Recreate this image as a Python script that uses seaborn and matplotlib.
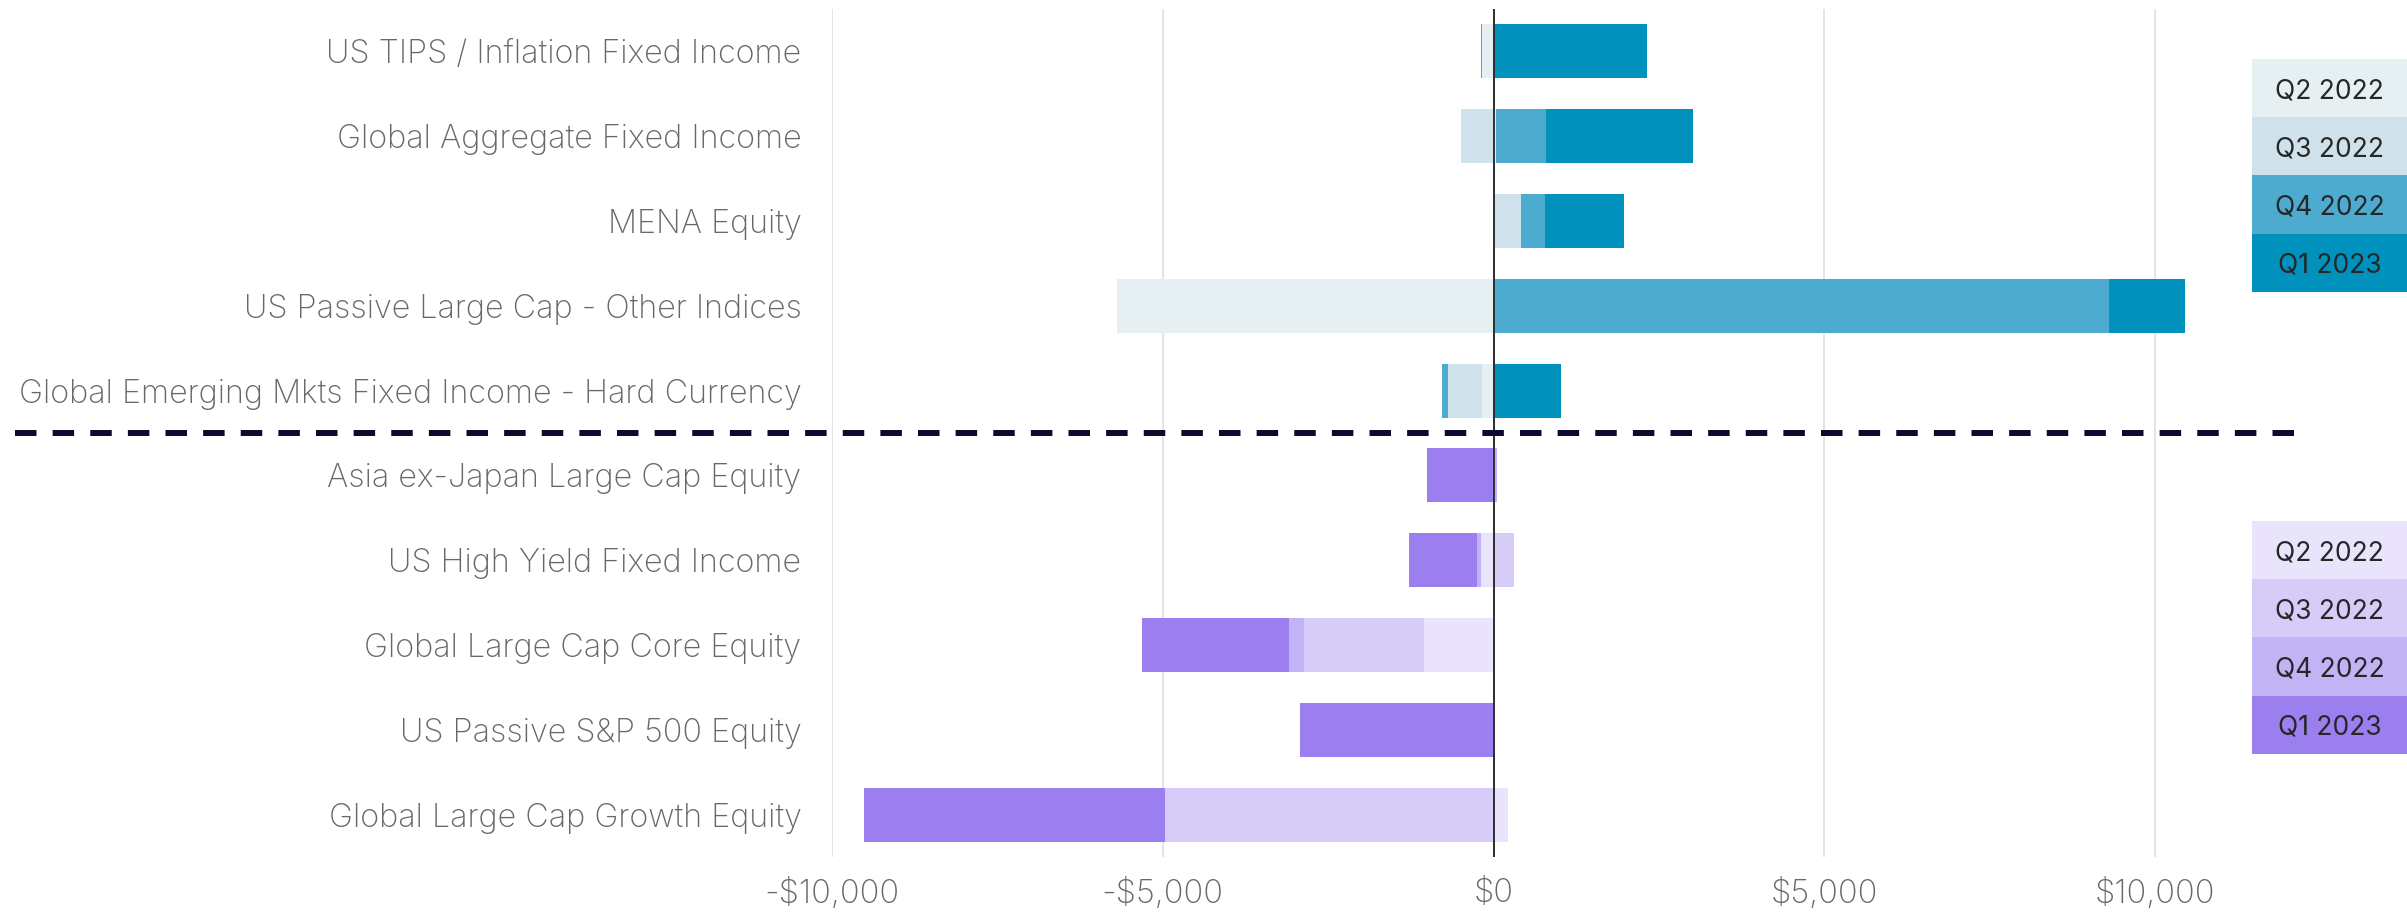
import matplotlib
matplotlib.use("Agg")
import matplotlib.pyplot as plt
import matplotlib.transforms as mtransforms
from matplotlib.patches import Rectangle
from matplotlib.lines import Line2D
import numpy as np
import pandas as pd
import seaborn as sns

# ---- data (net flows, USD millions) ----
categories = [
    "US TIPS / Inflation Fixed Income",
    "Global Aggregate Fixed Income",
    "MENA Equity",
    "US Passive Large Cap - Other Indices",
    "Global Emerging Mkts Fixed Income - Hard Currency",
    "Asia ex-Japan Large Cap Equity",
    "US High Yield Fixed Income",
    "Global Large Cap Core Equity",
    "US Passive S&P 500 Equity",
    "Global Large Cap Growth Equity",
]
quarters = ["Q2 2022", "Q3 2022", "Q4 2022", "Q1 2023"]
q2_2022 = [-180, 40, 0, -5690, -180, 0, -195, -1055, 0, 215]
q3_2022 = [0, -487, 408, 0, -513, 0, 302, -1810, 0, -4965]
q4_2022 = [-12, 750, 377, 9306, -90, 50, -60, -231, 0, 0]
q1_2023 = [2320, 2228, 1192, 1147, 1027, -1010, -1026, -2218, -2925, -4557]
n_inflow = 5  # first five rows are top inflows, the rest top outflows

xticks = [-10000, -5000, 0, 5000, 10000]
xtick_labels = ["-$10,000", "-$5,000", "$0", "$5,000", "$10,000"]

inflow_colors = ["#e6f0f3", "#cfe2eb", "#4cabce", "#0091bd"]
outflow_colors = ["#e9e4fb", "#d7ccf7", "#c2b3f5", "#9b7fef"]

# ---- style ----
sns.set_theme(style="white")
plt.rcParams["font.family"] = ["Inter", "DejaVu Sans"]

W, H = 2407, 915
fig = plt.figure(figsize=(W / 100, H / 100), dpi=100)
ax = fig.add_axes([832 / W, 1 - 857.4 / H, (2298 - 832) / W, (857.4 - 8.6) / H])

# ---- stacked bars: draw cumulative totals, outermost first ----
vals = np.array([q2_2022, q3_2022, q4_2022, q1_2023], dtype=float)
pos_cum = np.clip(vals, 0, None).cumsum(axis=0)
neg_cum = np.clip(vals, None, 0).cumsum(axis=0)

for k in reversed(range(len(quarters))):
    palette = {
        c: (inflow_colors[k] if i < n_inflow else outflow_colors[k])
        for i, c in enumerate(categories)
    }
    for cum in (pos_cum[k], neg_cum[k]):
        df = pd.DataFrame({"category": categories, "flow": cum})
        sns.barplot(
            data=df, x="flow", y="category", hue="category",
            order=categories, hue_order=categories, palette=palette,
            dodge=False, legend=False, errorbar=None, width=0.635,
            saturation=1, linewidth=0, ax=ax,
        )

ax.set_xlim(-10000, 12160)
ax.set_ylim(len(categories) - 0.5, -0.5)
ax.set_xlabel("")
ax.set_ylabel("")
ax.set_xticks(xticks)
ax.set_xticklabels(xtick_labels)

for s in ax.spines.values():
    s.set_visible(False)
ax.xaxis.grid(True, color="#dcdcdc", linewidth=1.1)
ax.yaxis.grid(False)
ax.set_axisbelow(True)
ax.axvline(0, color="#2e2e2e", linewidth=1.4, zorder=5)

ax.tick_params(axis="y", length=0, pad=22, labelsize=23.3, labelcolor="#686868")
ax.tick_params(axis="x", length=0, pad=15, labelsize=23.5, labelcolor="#686868")
for lbl in ax.get_yticklabels() + ax.get_xticklabels():
    lbl.set_fontweight("light")

# ---- separator between inflows and outflows ----
blend = mtransforms.blended_transform_factory(fig.transFigure, ax.transData)
sep_y = n_inflow - 0.5
fig.add_artist(Line2D([15 / W, 2298 / W], [sep_y, sep_y], transform=blend,
                      color="#0b0a2e", linewidth=4.3,
                      linestyle=(0, (3.6, 2.7)), dash_capstyle="butt"))

# ---- legends as colored blocks ----
leg_x0 = 2252 / W
leg_w = 1 - leg_x0
row_h = 58.2
for colors, top in ((inflow_colors, 59), (outflow_colors, 521)):
    for i, q in enumerate(quarters):
        y_top = top + i * row_h
        fig.add_artist(Rectangle((leg_x0, 1 - (y_top + row_h) / H), leg_w, row_h / H,
                                 transform=fig.transFigure, facecolor=colors[i],
                                 linewidth=0))
        fig.text(leg_x0 + leg_w / 2, 1 - (y_top + row_h / 2) / H, q,
                 ha="center", va="center_baseline", fontsize=19, color="#262626")

fig.savefig("out.png", dpi=100)
